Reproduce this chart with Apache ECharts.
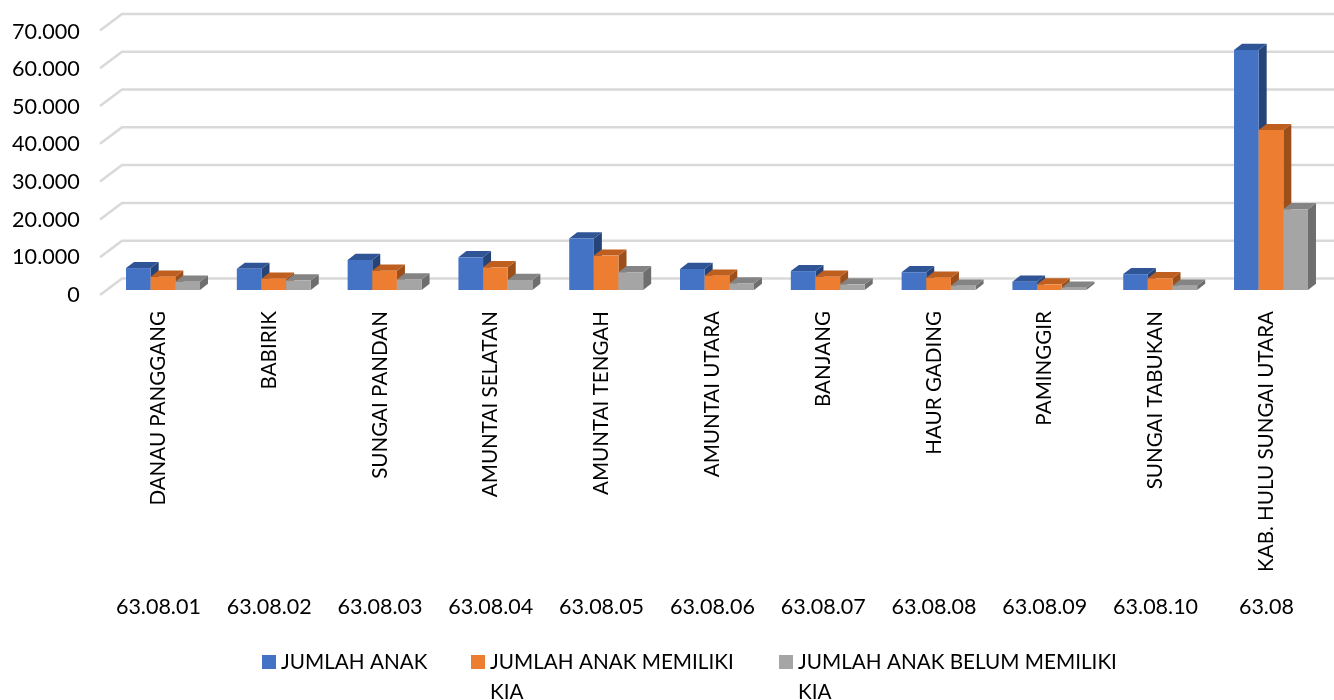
<!DOCTYPE html>
<html>
<head>
<meta charset="utf-8">
<style>html,body{margin:0;padding:0;background:#fff}#c{width:1334px;height:700px}</style>
<script src="https://cdn.jsdelivr.net/npm/echarts@6/dist/echarts.min.js"></script>
</head>
<body>
<div id="c"></div>
<script>
const districts = ['DANAU PANGGANG','BABIRIK','SUNGAI PANDAN','AMUNTAI SELATAN','AMUNTAI TENGAH','AMUNTAI UTARA','BANJANG','HAUR GADING','PAMINGGIR','SUNGAI TABUKAN','KAB. HULU SUNGAI UTARA'];
const codes = ['63.08.01','63.08.02','63.08.03','63.08.04','63.08.05','63.08.06','63.08.07','63.08.08','63.08.09','63.08.10','63.08'];
const jumlahAnak = [5800,5600,7950,8650,13650,5550,5000,4700,2200,4200,63500];
const memilikiKia = [3500,3000,5100,6000,9100,3800,3500,3250,1500,3100,42300];
const belumKia = [2200,2500,2800,2650,4700,1750,1500,1150,600,1150,21350];
const yTicks = [0,10000,20000,30000,40000,50000,60000,70000];
const seriesNames = ['JUMLAH ANAK','JUMLAH ANAK MEMILIKI KIA','JUMLAH ANAK BELUM MEMILIKI KIA'];
const FONT = 'Lato';

const palette = [
  {front:'#4472C4', top:'#2F5597', side:'#264478'},
  {front:'#ED7D31', top:'#BE5F1F', side:'#9C4F1A'},
  {front:'#A5A5A5', top:'#848484', side:'#6E6E6E'}
];

function barSeries(name, values, k) {
  const p = palette[k];
  return {
    type:'custom', name, xAxisIndex:0, yAxisIndex:0, clip:false, z:3+k,
    itemStyle:{color:p.front},
    data: values.map((v,i)=>[i,v]),
    encode:{x:0,y:1},
    renderItem(params, api){
      const i = api.value(0), v = api.value(1);
      const top = api.coord([i,v]), base = api.coord([i,0]);
      const band = api.size([1,0])[0];
      const w = band*0.2225, dx = 8, dy = 6.2;
      const x = top[0] + (k-1.5)*w, y0 = base[1], y1 = top[1];
      return {type:'group', children:[
        {type:'polygon', shape:{points:[[x+w,y1],[x+w+dx,y1-dy],[x+w+dx,y0-dy],[x+w,y0]]}, style:{fill:p.side}},
        {type:'polygon', shape:{points:[[x,y1],[x+dx,y1-dy],[x+w+dx,y1-dy],[x+w,y1]]}, style:{fill:p.top}},
        {type:'rect', shape:{x,y:y1,width:w,height:y0-y1}, style:{fill:p.front}}
      ]};
    }
  };
}

const wall = {
  type:'custom', name:'wall', xAxisIndex:0, yAxisIndex:0, clip:false, z:1, silent:true,
  data: yTicks.map(v=>[0,v]), encode:{x:0,y:1},
  renderItem(params, api){
    const y = api.coord([0,api.value(1)])[1];
    const left = params.coordSys.x;
    return {type:'polyline', shape:{points:[[left-7.6,y+5],[left+14.4,y-11.5],[api.getWidth(),y-11.5]]},
      style:{fill:null, stroke:'#D9D9D9', lineWidth:2.5}};
  }
};

const legendText = {fontFamily:FONT, fontSize:20.7, color:'#000', lineHeight:30};
function legend(name,left,top,wrapped){
  return {
    show:true, left, top, padding:0, orient:'horizontal', selectedMode:false, icon:'rect',
    itemWidth:14, itemHeight:14, itemGap:5,
    data:[name],
    formatter:n=>wrapped?'\n'+n.replace(/ KIA$/,'\nKIA'):n,
    textStyle:legendText
  };
}

const chart = echarts.init(document.getElementById('c'), null, {renderer:'canvas'});
chart.setOption({
  animation:false,
  backgroundColor:'#fff',
  textStyle:{fontFamily:FONT},
  tooltip:{show:false},
  legend:[
    legend(seriesNames[0],262,647,false),
    legend(seriesNames[1],471,617,true),
    legend(seriesNames[2],779,617,true)
  ],
  grid:[
    {left:107.6, width:1218.8, top:25.4, height:264.6},
    {left:103, width:1218.8, top:25.4, height:264.6},
    {left:107.6, width:1218.8, top:31.6, height:263.4}
  ],
  xAxis:[
    {type:'category', gridIndex:0, data:districts, axisLine:{show:false}, axisTick:{show:false}, axisLabel:{show:false}, splitLine:{show:false}},
    {type:'category', gridIndex:1, data:districts, axisLine:{show:false}, axisTick:{show:false}, splitLine:{show:false},
      axisLabel:{interval:0, rotate:90, margin:21, fontFamily:FONT, fontSize:20.6, color:'#000'}},
    {type:'category', gridIndex:1, position:'bottom', data:codes, axisLine:{show:false}, axisTick:{show:false}, splitLine:{show:false},
      axisLabel:{interval:0, margin:306, fontFamily:FONT, fontSize:21.5, color:'#000'}},
    {type:'category', gridIndex:2, data:districts, show:false}
  ],
  yAxis:[
    {type:'value', gridIndex:0, min:0, max:70000, interval:10000, show:false},
    {type:'value', gridIndex:1, min:0, max:70000, interval:10000, show:false},
    {type:'value', gridIndex:2, min:0, max:70000, interval:10000, axisLine:{show:false}, axisTick:{show:false}, splitLine:{show:false},
      axisLabel:{margin:27.8, fontFamily:FONT, fontSize:21.6, color:'#000', formatter:v=>v===0?'0':String(v).replace(/(\d{3})$/,'.$1')}}
  ],
  series:[
    wall,
    barSeries(seriesNames[0], jumlahAnak, 0),
    barSeries(seriesNames[1], memilikiKia, 1),
    barSeries(seriesNames[2], belumKia, 2)
  ]
});
</script>
</body>
</html>
